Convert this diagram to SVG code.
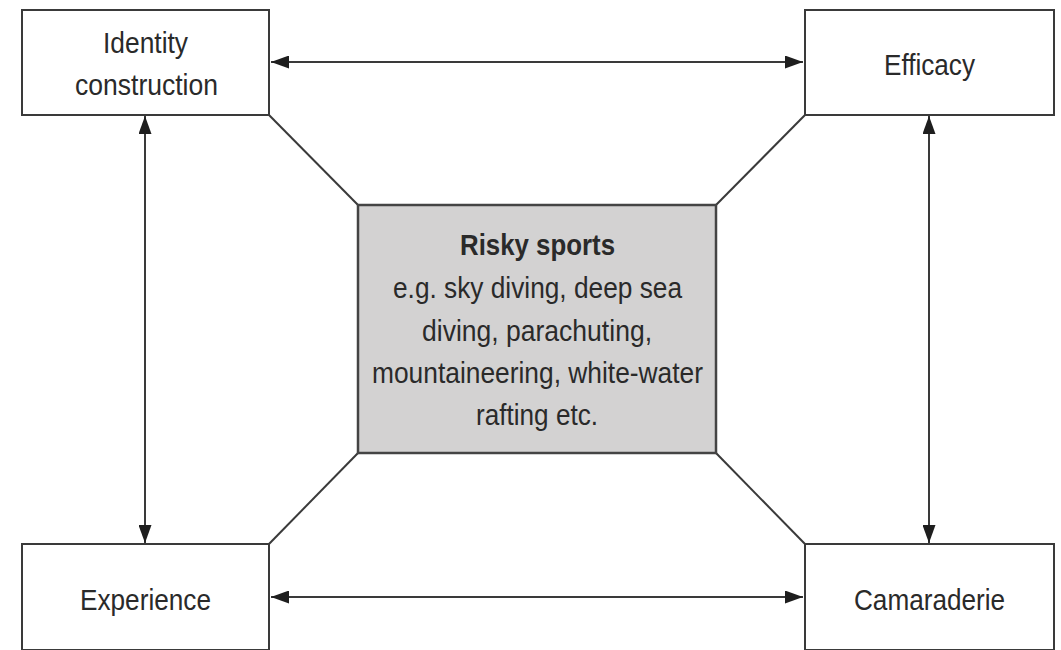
<svg xmlns="http://www.w3.org/2000/svg" width="1061" height="650" viewBox="0 0 1061 650">
  <style>
    .box { fill: #ffffff; stroke: #3a3a3a; stroke-width: 2; }
    .hub { fill: #d3d2d2; stroke: #444444; stroke-width: 2.5; }
    .lbl { font-family: "Liberation Sans", Arial, sans-serif; font-size: 30px; fill: #2a2a2a; text-anchor: middle; }
    .bold { font-weight: bold; }
    .link { stroke: #3a3a3a; stroke-width: 2; fill: none; }
    .arrow { stroke: #3a3a3a; stroke-width: 2; fill: none; marker-start: url(#head); marker-end: url(#head); }
  </style>
  <defs>
    <marker id="head" viewBox="0 0 18 13" refX="18" refY="6.5" markerWidth="18" markerHeight="13" markerUnits="userSpaceOnUse" orient="auto-start-reverse">
      <path d="M0,0 L18,6.5 L0,13 Z" fill="#1e1e1e"/>
    </marker>
  </defs>
  <rect width="1061" height="650" fill="#ffffff"/>

  <g id="connectors">
    <line class="link" x1="269" y1="115" x2="358" y2="205"/>
    <line class="link" x1="805" y1="115" x2="716" y2="205"/>
    <line class="link" x1="269" y1="544" x2="358" y2="453"/>
    <line class="link" x1="805" y1="544" x2="716" y2="453"/>
    <line class="arrow" x1="271" y1="62" x2="803" y2="62"/>
    <line class="arrow" x1="271" y1="597" x2="803" y2="597"/>
    <line class="arrow" x1="145" y1="116" x2="145" y2="543"/>
    <line class="arrow" x1="929" y1="116" x2="929" y2="543"/>
  </g>

  <g id="identity">
    <rect class="box" x="22" y="10" width="247" height="105"/>
    <text class="lbl" x="145.5" y="53" textLength="85" lengthAdjust="spacingAndGlyphs">Identity</text>
    <text class="lbl" x="146.5" y="95" textLength="143" lengthAdjust="spacingAndGlyphs">construction</text>
  </g>

  <g id="efficacy">
    <rect class="box" x="805" y="10" width="249" height="105"/>
    <text class="lbl" x="929.5" y="75" textLength="91" lengthAdjust="spacingAndGlyphs">Efficacy</text>
  </g>

  <g id="experience">
    <rect class="box" x="22" y="544" width="247" height="106"/>
    <text class="lbl" x="145.5" y="610" textLength="131" lengthAdjust="spacingAndGlyphs">Experience</text>
  </g>

  <g id="camaraderie">
    <rect class="box" x="805" y="544" width="249" height="106"/>
    <text class="lbl" x="929.5" y="610" textLength="151" lengthAdjust="spacingAndGlyphs">Camaraderie</text>
  </g>

  <g id="risky-sports">
    <rect class="hub" x="358" y="205" width="358" height="248"/>
    <text class="lbl bold" x="537.5" y="255" textLength="155" lengthAdjust="spacingAndGlyphs">Risky sports</text>
    <text class="lbl" x="537.5" y="298" textLength="289" lengthAdjust="spacingAndGlyphs">e.g. sky diving, deep sea</text>
    <text class="lbl" x="537" y="341" textLength="230" lengthAdjust="spacingAndGlyphs">diving, parachuting,</text>
    <text class="lbl" x="537.5" y="383" textLength="331" lengthAdjust="spacingAndGlyphs">mountaineering, white-water</text>
    <text class="lbl" x="537" y="425" textLength="122" lengthAdjust="spacingAndGlyphs">rafting etc.</text>
  </g>
</svg>
